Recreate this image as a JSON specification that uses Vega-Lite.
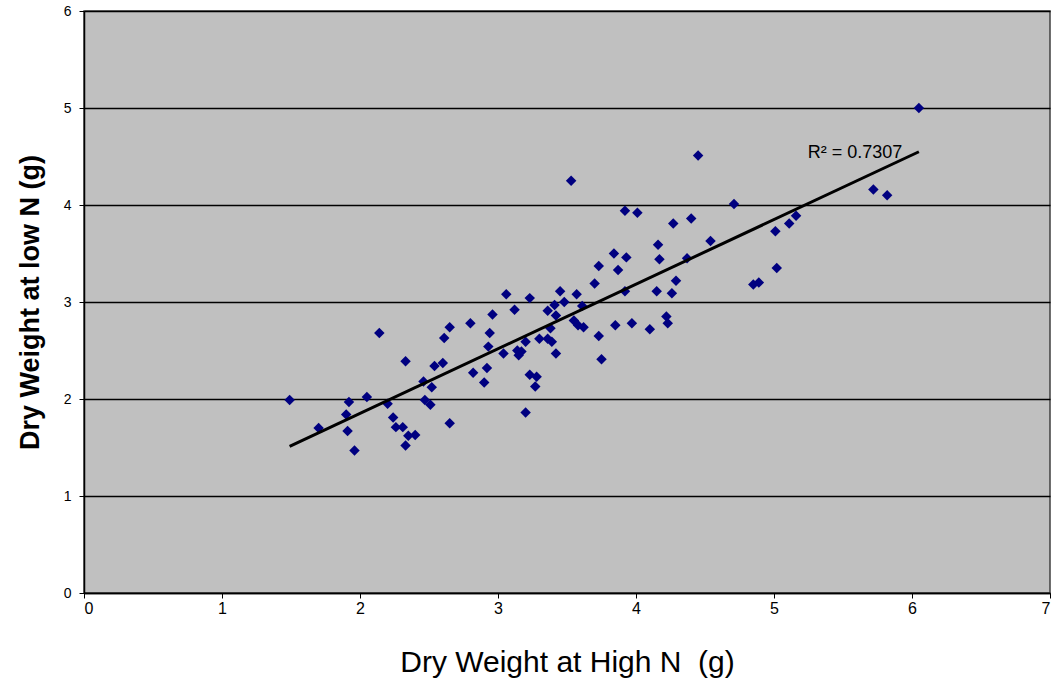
{
  "$schema": "https://vega.github.io/schema/vega-lite/v6.json",
  "width": 966,
  "height": 582,
  "autosize": {"type": "none"},
  "padding": {"left": 84, "top": 11, "right": 5, "bottom": 93},
  "background": "#ffffff",
  "config": {
    "font": "Liberation Sans",
    "view": {"fill": "#c0c0c0", "stroke": "#404040", "strokeWidth": 1.5}
  },
  "datasets": {
    "plants": [
      {"high": 1.49, "low": 1.99}, {"high": 1.70, "low": 1.70}, {"high": 1.90, "low": 1.84},
      {"high": 1.92, "low": 1.97}, {"high": 1.91, "low": 1.67}, {"high": 1.96, "low": 1.47},
      {"high": 2.05, "low": 2.02}, {"high": 2.14, "low": 2.68}, {"high": 2.20, "low": 1.95},
      {"high": 2.33, "low": 2.39}, {"high": 2.24, "low": 1.81}, {"high": 2.26, "low": 1.71},
      {"high": 2.31, "low": 1.71}, {"high": 2.40, "low": 1.63}, {"high": 2.35, "low": 1.62},
      {"high": 2.33, "low": 1.52}, {"high": 2.46, "low": 2.18}, {"high": 2.52, "low": 2.12},
      {"high": 2.54, "low": 2.34}, {"high": 2.60, "low": 2.37}, {"high": 2.47, "low": 1.99},
      {"high": 2.51, "low": 1.94}, {"high": 2.61, "low": 2.63}, {"high": 2.65, "low": 2.74},
      {"high": 2.65, "low": 1.75}, {"high": 2.80, "low": 2.78}, {"high": 2.82, "low": 2.27},
      {"high": 2.96, "low": 2.87}, {"high": 2.94, "low": 2.68}, {"high": 2.93, "low": 2.54},
      {"high": 2.92, "low": 2.32}, {"high": 2.90, "low": 2.17}, {"high": 3.06, "low": 3.08},
      {"high": 3.12, "low": 2.92}, {"high": 3.23, "low": 3.04}, {"high": 3.04, "low": 2.47},
      {"high": 3.15, "low": 2.45}, {"high": 3.17, "low": 2.49}, {"high": 3.20, "low": 2.59},
      {"high": 3.14, "low": 2.50}, {"high": 3.23, "low": 2.25}, {"high": 3.28, "low": 2.23},
      {"high": 3.27, "low": 2.13}, {"high": 3.20, "low": 1.86}, {"high": 3.30, "low": 2.62},
      {"high": 3.36, "low": 2.62}, {"high": 3.39, "low": 2.59}, {"high": 3.42, "low": 2.47},
      {"high": 3.36, "low": 2.91}, {"high": 3.41, "low": 2.97}, {"high": 3.45, "low": 3.11},
      {"high": 3.48, "low": 3.00}, {"high": 3.42, "low": 2.86}, {"high": 3.57, "low": 3.08},
      {"high": 3.61, "low": 2.96}, {"high": 3.55, "low": 2.81}, {"high": 3.58, "low": 2.76},
      {"high": 3.62, "low": 2.74}, {"high": 3.73, "low": 2.65}, {"high": 3.75, "low": 2.41},
      {"high": 3.70, "low": 3.19}, {"high": 3.73, "low": 3.37}, {"high": 3.84, "low": 3.50},
      {"high": 3.85, "low": 2.76}, {"high": 3.87, "low": 3.33}, {"high": 3.53, "low": 4.25},
      {"high": 4.45, "low": 4.51}, {"high": 3.92, "low": 3.94}, {"high": 4.01, "low": 3.92},
      {"high": 4.71, "low": 4.01}, {"high": 4.27, "low": 3.81}, {"high": 4.40, "low": 3.86},
      {"high": 4.54, "low": 3.63}, {"high": 4.16, "low": 3.59}, {"high": 4.17, "low": 3.44},
      {"high": 4.37, "low": 3.45}, {"high": 3.93, "low": 3.46}, {"high": 3.92, "low": 3.11},
      {"high": 4.15, "low": 3.11}, {"high": 4.26, "low": 3.09}, {"high": 4.29, "low": 3.22},
      {"high": 3.97, "low": 2.78}, {"high": 4.10, "low": 2.72}, {"high": 4.22, "low": 2.85},
      {"high": 4.23, "low": 2.78}, {"high": 6.05, "low": 5.00}, {"high": 5.72, "low": 4.16},
      {"high": 5.82, "low": 4.10}, {"high": 5.01, "low": 3.73}, {"high": 5.11, "low": 3.81},
      {"high": 5.16, "low": 3.89}, {"high": 5.02, "low": 3.35}, {"high": 4.85, "low": 3.18},
      {"high": 4.89, "low": 3.20}, {"high": 3.38, "low": 2.73}
    ],
    "trend": [
      {"high": 1.49, "low": 1.512},
      {"high": 6.05, "low": 4.549}
    ],
    "fit": [
      {"high": 5.93, "low": 4.54, "label": "R² = 0.7307"}
    ]
  },
  "encoding": {
    "x": {
      "field": "high",
      "type": "quantitative",
      "scale": {"domain": [0, 7], "nice": false, "zero": true},
      "axis": {
        "title": "Dry Weight at High N\u00a0 (g)",
        "values": [0, 1, 2, 3, 4, 5, 6, 7],
        "format": "d",
        "grid": false,
        "domainColor": "#000000",
        "domainWidth": 1.5,
        "tickColor": "#000000",
        "tickSize": 5,
        "labelFontSize": 16,
        "labelColor": "#000000",
        "labelPadding": 2,
        "titleFontSize": 30,
        "titleFontWeight": "normal",
        "titleColor": "#000000",
        "titlePadding": 31
      }
    },
    "y": {
      "field": "low",
      "type": "quantitative",
      "scale": {"domain": [0, 6], "nice": false, "zero": true},
      "axis": {
        "title": "Dry Weight at low N (g)",
        "values": [0, 1, 2, 3, 4, 5, 6],
        "format": "d",
        "grid": true,
        "gridColor": "#000000",
        "gridWidth": 1.5,
        "gridOpacity": 1,
        "domainColor": "#000000",
        "domainWidth": 1.5,
        "tickColor": "#000000",
        "tickSize": 5,
        "labelFontSize": 14,
        "labelColor": "#000000",
        "labelPadding": 8,
        "titleFontSize": 27,
        "titleFontWeight": "bold",
        "titleColor": "#000000",
        "titlePadding": 19
      }
    }
  },
  "layer": [
    {
      "data": {"name": "plants"},
      "mark": {"type": "point", "shape": "diamond", "filled": true, "color": "#000080", "opacity": 1, "size": 110}
    },
    {
      "data": {"name": "trend"},
      "mark": {"type": "line", "color": "#000000", "strokeWidth": 3}
    },
    {
      "data": {"name": "fit"},
      "mark": {"type": "text", "align": "right", "baseline": "middle", "fontSize": 18, "color": "#000000"},
      "encoding": {"text": {"field": "label"}}
    }
  ]
}
